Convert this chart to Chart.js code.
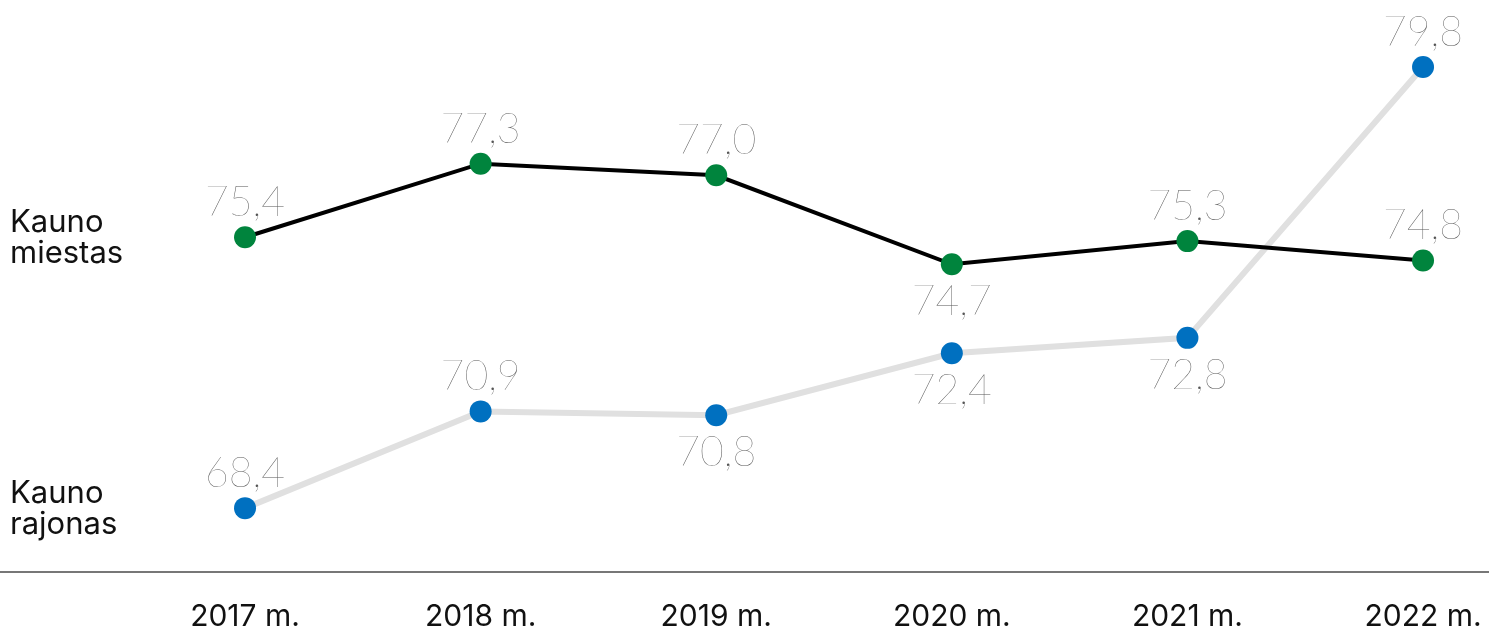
<!DOCTYPE html>
<html>
<head>
<meta charset="utf-8">
<script src="https://cdn.jsdelivr.net/npm/chart.js@4/dist/chart.umd.min.js"></script>
<style>
  html, body { margin: 0; padding: 0; background: #fff; }
  #wrap { width: 1489px; height: 632px; position: relative; }
</style>
</head>
<body>
<div id="wrap"><canvas id="c" width="1489" height="632"></canvas></div>
<script>
const years = ['2017 m.', '2018 m.', '2019 m.', '2020 m.', '2021 m.', '2022 m.'];
const miestas = [75.4, 77.3, 77.0, 74.7, 75.3, 74.8];
const rajonas = [68.4, 70.9, 70.8, 72.4, 72.8, 79.8];
const miestasLabelSide = ['above', 'above', 'above', 'below', 'above', 'above'];
const rajonasLabelSide = ['above', 'above', 'below', 'below', 'below', 'above'];
const seriesNames = [['Kauno', 'miestas'], ['Kauno', 'rajonas']];

const toXY = arr => arr.map((v, i) => ({ x: i, y: v }));

const labelPlugin = {
  id: 'labels',
  afterDatasetsDraw(chart) {
    const ctx = chart.ctx;
    const sides = [miestasLabelSide, rajonasLabelSide];
    ctx.save();
    chart.data.datasets.forEach((ds, di) => {
      const meta = chart.getDatasetMeta(di);
      meta.data.forEach((pt, i) => {
        const v = ds.data[i].y;
        const txt = v.toFixed(1).replace('.', ',');
        ctx.font = '100 41px Lato, "Open Sans", sans-serif';
        ctx.fillStyle = '#555555';
        ctx.textAlign = 'center';
        ctx.textBaseline = 'alphabetic';
        const dy = sides[di][i] === 'above' ? -21 : 51;
        ctx.fillText(txt, pt.x, pt.y + dy);
      });
      // series name at left, centered on first point
      const first = meta.data[0];
      ctx.font = '400 31px Inter, "Liberation Sans", sans-serif';
      ctx.fillStyle = '#111';
      ctx.textAlign = 'left';
      ctx.textBaseline = 'alphabetic';
      ctx.fillText(seriesNames[di][0], 10, first.y - 5);
      ctx.fillText(seriesNames[di][1], 10, first.y + 26);
    });
    ctx.restore();
  }
};

new Chart(document.getElementById('c'), {
  type: 'line',
  data: {
    datasets: [
      {
        label: 'Kauno miestas',
        data: toXY(miestas),
        borderColor: '#000000',
        borderWidth: 4,
        pointBackgroundColor: '#00843d',
        pointBorderWidth: 0,
        pointRadius: 11,
        pointHoverRadius: 11,
        tension: 0,
        clip: false,
        order: 1
      },
      {
        label: 'Kauno rajonas',
        data: toXY(rajonas),
        borderColor: '#e0e0e0',
        borderWidth: 6,
        pointBackgroundColor: '#0070c0',
        pointBorderWidth: 0,
        pointRadius: 11,
        pointHoverRadius: 11,
        tension: 0,
        clip: false,
        order: 2
      }
    ]
  },
  options: {
    responsive: false,
    animation: false,
    events: [],
    layout: { padding: 0, autoPadding: false },
    plugins: { legend: { display: false }, tooltip: { enabled: false } },
    scales: {
      x: {
        type: 'linear',
        min: -1.04,
        max: 5.28,
        afterBuildTicks: axis => { axis.ticks = years.map((_, i) => ({ value: i })); },
        afterFit: axis => {
          axis.height = 60;
          axis.paddingLeft = 0; axis.paddingRight = 0;
          axis.paddingTop = 0; axis.paddingBottom = 0;
        },
        grid: { display: false, drawTicks: false },
        border: { display: true, color: '#777777', width: 2 },
        ticks: {
          autoSkip: false,
          maxRotation: 0,
          padding: 26,
          color: '#111',
          font: { family: 'Inter, "Liberation Sans", sans-serif', size: 30, weight: '400', lineHeight: 1.24 },
          callback: v => years[v]
        }
      },
      y: {
        display: false,
        min: 66.75,
        max: 81.53
      }
    }
  },
  plugins: [labelPlugin]
});
</script>
</body>
</html>
